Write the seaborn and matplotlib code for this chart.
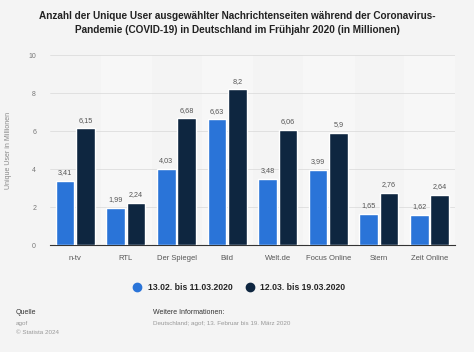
import matplotlib
matplotlib.use("Agg")
import matplotlib.pyplot as plt
import seaborn as sns
import pandas as pd
from matplotlib.lines import Line2D

categories = ["n-tv", "RTL", "Der Spiegel", "Bild", "Welt.de", "Focus Online", "Stern", "Zeit Online"]
series_names = ["13.02. bis 11.03.2020", "12.03. bis 19.03.2020"]
values_1 = [3.41, 1.99, 4.03, 6.63, 3.48, 3.99, 1.65, 1.62]
values_2 = [6.15, 2.24, 6.68, 8.2, 6.06, 5.9, 2.76, 2.64]
colors = ["#2a74d8", "#0e2640"]

df = pd.DataFrame({
    "cat": categories * 2,
    "series": [series_names[0]] * len(categories) + [series_names[1]] * len(categories),
    "val": values_1 + values_2,
})

sns.set_theme(style="white")
plt.rcParams['font.family'] = ['Liberation Sans', 'DejaVu Sans']

bg = "#f4f4f4"
fig = plt.figure(figsize=(4.74, 3.52), dpi=100, facecolor=bg)
ax = fig.add_axes([0.1055, 0.303, 0.854, 0.54])
ax.set_facecolor(bg)

# subtle alternating bands
for i in range(len(categories)):
    if i % 2 == 1:
        ax.axvspan(i - 0.5, i + 0.5, color="#f7f7f7", zorder=0)

sns.barplot(data=df, x="cat", y="val", hue="series", palette=colors, ax=ax,
            width=0.8, gap=0.08, legend=False, zorder=3, saturation=1)

for cont in ax.containers:
    for bar in cont:
        h = bar.get_height()
        ax.text(bar.get_x() + bar.get_width() / 2, h + 0.25, f"{h:g}".replace(".", ","),
                ha="center", va="bottom", fontsize=5.2, color="#555555", zorder=4)

ax.set_ylim(0, 10)
ax.set_xlim(-0.5, len(categories) - 0.5)
ax.set_yticks([0, 2, 4, 6, 8, 10])
ax.set_yticklabels(["0", "2", "4", "6", "8", "10"], fontsize=5, color="#777777")
ax.tick_params(axis="x", labelsize=5.5, colors="#555555", length=0, pad=7)
ax.tick_params(axis="y", length=0, pad=10)
ax.grid(axis="y", color="#dddddd", linewidth=0.6, zorder=0)
ax.set_axisbelow(True)
for s in ["top", "right", "left"]:
    ax.spines[s].set_visible(False)
ax.spines["bottom"].set_color("#333333")
ax.spines["bottom"].set_linewidth(0.8)
ax.set_xlabel("")
ax.set_ylabel("Unique User in Millionen", fontsize=5, color="#888888", labelpad=12)

fig.text(0.5, 0.935, "Anzahl der Unique User ausgewählter Nachrichtenseiten während der Coronavirus-\nPandemie (COVID-19) in Deutschland im Frühjahr 2020 (in Millionen)",
         ha="center", va="center", fontsize=7.2, fontweight="bold", color="#222222", linespacing=1.5)

handles = [Line2D([0], [0], marker="o", color="none", markerfacecolor=c, markeredgecolor=c, markersize=6)
           for c in colors]
fig.legend(handles, series_names, loc="center", bbox_to_anchor=(0.5, 0.184), ncol=2, frameon=False,
           handletextpad=0.2, columnspacing=1.0, prop={"weight": "bold", "size": 6.2})

fig.text(0.033, 0.108, "Quelle", fontsize=5, color="#333333")
fig.text(0.033, 0.078, "agof", fontsize=4.5, color="#999999")
fig.text(0.033, 0.05, "© Statista 2024", fontsize=4.5, color="#999999")
fig.text(0.323, 0.108, "Weitere Informationen:", fontsize=5, color="#333333")
fig.text(0.323, 0.078, "Deutschland; agof; 13. Februar bis 19. März 2020", fontsize=4.5, color="#999999")

fig.savefig("out.png", dpi=100, facecolor=bg)
